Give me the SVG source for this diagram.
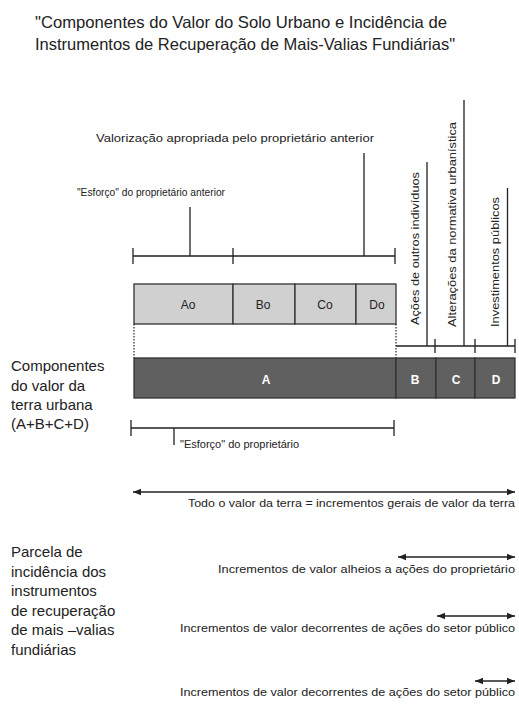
<svg xmlns="http://www.w3.org/2000/svg" width="519" height="713" viewBox="0 0 519 713">
<style>
text{font-family:"Liberation Sans",Arial,sans-serif;fill:#222}
.title{font-size:16.5px}
.side{font-size:15px}
.lbl{font-size:11px}
.box{font-size:12px}
.dk{font-size:12px;font-weight:bold;fill:#fff}
.ln{stroke:#222;stroke-width:1.3;fill:none}
.dot{stroke:#222;stroke-width:1.2;stroke-dasharray:1.5 1.5;fill:none}
.light{fill:#d0d0d0;stroke:#333;stroke-width:1.3}
.dark{fill:#606060;stroke:#333;stroke-width:1.3}
</style>
<defs>
<marker id="ah" markerUnits="userSpaceOnUse" markerWidth="9" markerHeight="8" refX="8" refY="4" orient="auto-start-reverse">
<path d="M0,0.8 L8,4 L0,7.2 Z" fill="#222"/>
</marker>
</defs>
<rect width="519" height="713" fill="#fff"/>
<g id="title">
<text class="title" x="35" y="28" textLength="412" lengthAdjust="spacingAndGlyphs">"Componentes do Valor do Solo Urbano e Incidência de</text>
<text class="title" x="35" y="50" textLength="420" lengthAdjust="spacingAndGlyphs">Instrumentos de Recuperação de Mais-Valias Fundiárias"</text>
</g>
<g id="labels-top">
<text class="lbl" x="96" y="142" textLength="278" lengthAdjust="spacingAndGlyphs">Valorização apropriada pelo proprietário anterior</text>
<text class="lbl" x="77" y="196" textLength="148" lengthAdjust="spacingAndGlyphs">"Esforço" do proprietário anterior</text>
</g>
<g id="vertical-labels">
<text class="lbl" transform="translate(419,325) rotate(-90)" textLength="153" lengthAdjust="spacingAndGlyphs">Ações de outros indivíduos</text>
<text class="lbl" transform="translate(456,327) rotate(-90)" textLength="205" lengthAdjust="spacingAndGlyphs">Alterações da normativa urbanística</text>
<text class="lbl" transform="translate(499,327) rotate(-90)" textLength="130" lengthAdjust="spacingAndGlyphs">Investimentos públicos</text>
</g>
<g id="connectors">
<path class="ln" d="M133,256 H395 M133,248 V264 M233,248 V264 M395,248 V264 M190,207 V256 M364,153 V256"/>
<path class="dot" d="M134,324 V358 M396,324 V358"/>
<path class="ln" d="M396,346 H515 M435,339 V353 M475,339 V353 M515,339 V353 M427,162 V346 M464,100 V346 M507.5,188 V346"/>
<path class="ln" d="M131,428 H394 M131,420 V436 M394,420 V436 M174,428 V445"/>
<line class="ln" x1="133" y1="492" x2="515" y2="492" marker-start="url(#ah)" marker-end="url(#ah)"/>
<line class="ln" x1="398" y1="557" x2="515" y2="557" marker-start="url(#ah)" marker-end="url(#ah)"/>
<line class="ln" x1="437" y1="616" x2="515" y2="616" marker-start="url(#ah)" marker-end="url(#ah)"/>
<line class="ln" x1="475" y1="681" x2="515" y2="681" marker-start="url(#ah)" marker-end="url(#ah)"/>
</g>
<g id="node-Ao"><rect class="light" x="134" y="284" width="99" height="40"/><text class="box" x="188" y="309" text-anchor="middle">Ao</text></g>
<g id="node-Bo"><rect class="light" x="233" y="284" width="62" height="40"/><text class="box" x="263" y="309" text-anchor="middle">Bo</text></g>
<g id="node-Co"><rect class="light" x="295" y="284" width="61" height="40"/><text class="box" x="325" y="309" text-anchor="middle">Co</text></g>
<g id="node-Do"><rect class="light" x="356" y="284" width="40" height="40"/><text class="box" x="377" y="309" text-anchor="middle">Do</text></g>
<g id="node-A"><rect class="dark" x="134" y="358" width="262" height="40"/><text class="dk" x="266" y="384" text-anchor="middle">A</text></g>
<g id="node-B"><rect class="dark" x="396" y="358" width="40" height="40"/><text class="dk" x="415" y="384" text-anchor="middle">B</text></g>
<g id="node-C"><rect class="dark" x="436" y="358" width="39" height="40"/><text class="dk" x="456" y="384" text-anchor="middle">C</text></g>
<g id="node-D"><rect class="dark" x="475" y="358" width="40" height="40"/><text class="dk" x="496" y="384" text-anchor="middle">D</text></g>
<g id="side-componentes">
<text class="side" x="11" y="371">Componentes</text>
<text class="side" x="11" y="390.5">do valor da</text>
<text class="side" x="11" y="410">terra urbana</text>
<text class="side" x="11" y="429">(A+B+C+D)</text>
</g>
<g id="label-esforco">
<text class="lbl" x="180" y="448">"Esforço" do proprietário</text>
</g>
<g id="side-parcela">
<text class="side" x="11" y="557">Parcela de</text>
<text class="side" x="11" y="576.5">incidência dos</text>
<text class="side" x="11" y="596">instrumentos</text>
<text class="side" x="11" y="615.5">de recuperação</text>
<text class="side" x="11" y="635">de mais –valias</text>
<text class="side" x="11" y="654.5">fundiárias</text>
</g>
<g id="arrow-labels">
<text class="lbl" x="515" y="507" text-anchor="end" textLength="327" lengthAdjust="spacingAndGlyphs">Todo o valor da terra = incrementos gerais de valor da terra</text>
<text class="lbl" x="515" y="573" text-anchor="end" textLength="297" lengthAdjust="spacingAndGlyphs">Incrementos de valor alheios a ações do proprietário</text>
<text class="lbl" x="515" y="632" text-anchor="end" textLength="335" lengthAdjust="spacingAndGlyphs">Incrementos de valor decorrentes de ações do setor público</text>
<text class="lbl" x="515" y="696" text-anchor="end" textLength="335" lengthAdjust="spacingAndGlyphs">Incrementos de valor decorrentes de ações do setor público</text>
</g>
</svg>
